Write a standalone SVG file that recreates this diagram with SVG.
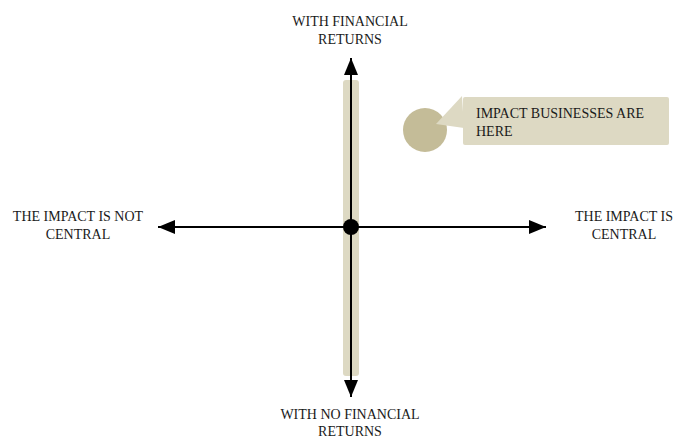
<svg xmlns="http://www.w3.org/2000/svg" width="674" height="436" viewBox="0 0 674 436">
<style>
text{font-family:"Liberation Serif","Times New Roman",serif;font-size:14px;fill:#1a1a1a}
.ax{stroke:#000;stroke-width:2;fill:none}
</style>
<defs>
<marker id="ah" viewBox="0 0 17 14" refX="17" refY="7" markerWidth="17" markerHeight="14" markerUnits="userSpaceOnUse" orient="auto" overflow="visible">
<path d="M0,0 L17,7 L0,14 Z" fill="#000"/>
</marker>
</defs>
<rect width="674" height="436" fill="#fff"/>
<g id="band"><rect x="343" y="80" width="16" height="296" rx="3" fill="#ddd9c3"/></g>
<g id="connectors">
<line class="ax" x1="351" y1="227" x2="351" y2="58" marker-end="url(#ah)"/>
<line class="ax" x1="351" y1="227" x2="351" y2="397" marker-end="url(#ah)"/>
<line class="ax" x1="351" y1="227" x2="158" y2="227" marker-end="url(#ah)"/>
<line class="ax" x1="351" y1="227" x2="546" y2="227" marker-end="url(#ah)"/>
</g>
<g id="center"><circle cx="351" cy="227" r="8" fill="#000"/></g>
<g id="callout">
<circle cx="425" cy="130" r="22" fill="#c4bc98"/>
<path d="M462,96 L436,124 L464,128 Z" fill="#ddd9c3"/>
<rect x="463" y="97" width="206" height="48" rx="2" fill="#ddd9c3"/>
<text x="476" y="118">IMPACT BUSINESSES ARE</text>
<text x="476" y="136">HERE</text>
</g>
<g id="top" text-anchor="middle"><text x="350" y="26">WITH FINANCIAL</text><text x="350" y="44">RETURNS</text></g>
<g id="bottom" text-anchor="middle"><text x="350" y="419">WITH NO FINANCIAL</text><text x="350" y="436">RETURNS</text></g>
<g id="left" text-anchor="middle"><text x="78" y="221">THE IMPACT IS NOT</text><text x="78" y="239">CENTRAL</text></g>
<g id="right" text-anchor="middle"><text x="624" y="221">THE IMPACT IS</text><text x="624" y="239">CENTRAL</text></g>
</svg>
